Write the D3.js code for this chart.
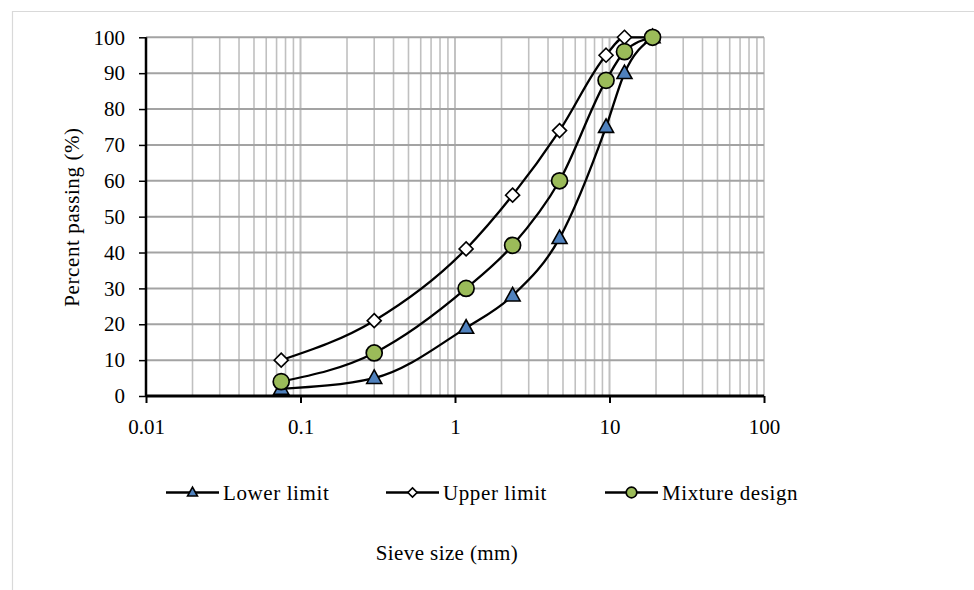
<!DOCTYPE html>
<html><head><meta charset="utf-8">
<script src="https://cdn.jsdelivr.net/npm/d3@7"></script>
<style>body{margin:0;background:#fff}svg{display:block}text{font-family:"Liberation Serif","Times New Roman",serif;fill:#000}</style>
</head><body>
<svg id="c" width="974" height="590"></svg>
<script>
const sieve = [0.075, 0.3, 1.18, 2.36, 4.75, 9.5, 12.5, 19];
const lowerLimit = [2, 5, 19, 28, 44, 75, 90, 100];
const upperLimit = [10, 21, 41, 56, 74, 95, 100, 100];
const mixture = [4, 12, 30, 42, 60, 88, 96, 100];
const xTicks = [0.01, 0.1, 1, 10, 100];
const xTickLabels = ["0.01", "0.1", "1", "10", "100"];
const yTicks = [0, 10, 20, 30, 40, 50, 60, 70, 80, 90, 100];
const seriesNames = ["Lower limit", "Upper limit", "Mixture design"];

const FS = 21;
const svg = d3.select("#c");
const L = 146, R = 764, T = 37.3, B = 396;
const x = d3.scaleLog().domain([0.01, 100]).range([L, R]);
const y = d3.scaleLinear().domain([0, 100]).range([B, T]);

// outer frame
svg.append("path").attr("d", `M12.5,590 V11.5 H974`).attr("fill","none").attr("stroke","#d9d9d9").attr("stroke-width",1.2);

// minor vertical gridlines
const minors = [];
[0.01, 0.1, 1, 10].forEach(d => { for (let k = 1; k <= 10; k++) minors.push(d * k); });
svg.append("g").selectAll("line").data(minors.filter(v => v > 0.0100001)).join("line")
  .attr("x1", d => x(d)).attr("x2", d => x(d)).attr("y1", y(0)).attr("y2", y(100))
  .attr("stroke", "#c0c0c0").attr("stroke-width", 1.6);
// horizontal gridlines
svg.append("g").selectAll("line").data(yTicks.slice(1)).join("line")
  .attr("x1", L).attr("x2", R).attr("y1", d => y(d)).attr("y2", d => y(d))
  .attr("stroke", "#a3a3a3").attr("stroke-width", 2);

// axes
const xAxis = d3.axisBottom(x).tickValues(xTicks).tickFormat((d, i) => xTickLabels[i]).tickSize(7).tickPadding(16);
const gx = svg.append("g").attr("transform", `translate(0,${B})`).call(xAxis);
gx.select(".domain").attr("stroke", "#000").attr("stroke-width", 3).attr("d", `M${L},0H${R}`);
gx.selectAll(".tick line").attr("stroke", "#000").attr("stroke-width", 2);
gx.selectAll("text").attr("font-size", FS).attr("font-family", "Liberation Serif");

const yAxis = d3.axisLeft(y).tickValues(yTicks).tickSize(7).tickPadding(14);
const gy = svg.append("g").attr("transform", `translate(${L},0)`).call(yAxis);
gy.select(".domain").attr("stroke", "#000").attr("stroke-width", 2.5).attr("d", `M0,${B}V${T}`);
gy.selectAll(".tick line").attr("stroke", "#000").attr("stroke-width", 1.5);
gy.selectAll("text").attr("font-size", FS).attr("font-family", "Liberation Serif");

// axis titles
svg.append("text").attr("transform", `translate(79,217) rotate(-90)`).attr("text-anchor", "middle")
  .attr("font-size", FS).attr("letter-spacing", 0.6).text("Percent passing (%)");
svg.append("text").attr("x", 447).attr("y", 560).attr("text-anchor", "middle")
  .attr("font-size", FS).attr("letter-spacing", 0.4).text("Sieve size (mm)");

const line = d3.line().x((d, i) => x(sieve[i])).y(d => y(d)).curve(d3.curveMonotoneX);

const series = [
  {name: seriesNames[0], vals: lowerLimit, type: "tri"},
  {name: seriesNames[1], vals: upperLimit, type: "dia"},
  {name: seriesNames[2], vals: mixture, type: "cir"}
];

function marker(g, type, cx, cy, legend) {
  const s = legend ? 0.66 : 1;
  if (type === "tri") {
    const h = 13.5 * s, w = 15 * s;
    g.append("path").attr("d", `M${cx},${cy - h * 0.6}L${cx + w / 2},${cy + h * 0.4}L${cx - w / 2},${cy + h * 0.4}Z`)
      .attr("fill", "#4F81BD").attr("stroke", "#000").attr("stroke-width", 1.6);
  } else if (type === "dia") {
    const r = 7 * s;
    g.append("path").attr("d", `M${cx},${cy - r}L${cx + r},${cy}L${cx},${cy + r}L${cx - r},${cy}Z`)
      .attr("fill", "#fff").attr("stroke", "#000").attr("stroke-width", 1.6);
  } else {
    g.append("circle").attr("cx", cx).attr("cy", cy).attr("r", legend ? 5.3 : 8)
      .attr("fill", "#9BBB59").attr("stroke", "#000").attr("stroke-width", 1.7);
  }
}

series.forEach(s => {
  svg.append("path").datum(s.vals).attr("d", line).attr("fill", "none").attr("stroke", "#000").attr("stroke-width", 2.3);
});
series.forEach(s => {
  const g = svg.append("g");
  s.vals.forEach((v, i) => marker(g, s.type, x(sieve[i]), y(v), false));
});

// legend
const legX = [166, 386, 605];
const legY = 492.5;
series.forEach((s, i) => {
  const g = svg.append("g");
  g.append("line").attr("x1", legX[i]).attr("x2", legX[i] + 53).attr("y1", legY).attr("y2", legY)
    .attr("stroke", "#000").attr("stroke-width", 2.3);
  marker(g, s.type, legX[i] + 26.5, legY, true);
  g.append("text").attr("x", legX[i] + 57).attr("y", legY + 7).attr("font-size", FS)
    .attr("letter-spacing", 0.6).text(s.name);
});
</script>
</body></html>
